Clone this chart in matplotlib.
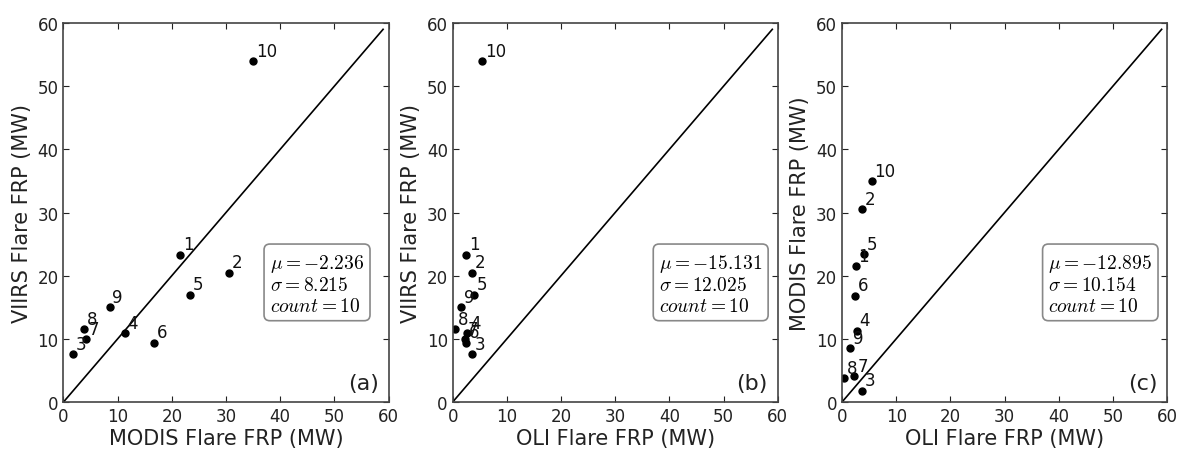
import matplotlib
matplotlib.use("Agg")
import matplotlib.pyplot as plt

plt.rcParams['mathtext.fontset'] = 'cm'
plt.rcParams['font.family'] = 'DejaVu Sans'

# flare ids and FRP values (MW)
flare_ids = ["1", "2", "3", "4", "5", "6", "7", "8", "9", "10"]
modis_frp = [21.5, 30.5, 1.8, 11.3, 23.4, 16.8, 4.1, 3.8, 8.5, 35.0]
viirs_frp = [23.3, 20.5, 7.6, 10.9, 17.0, 9.4, 9.9, 11.5, 15.0, 54.0]
oli_frp = [2.5, 3.6, 3.6, 2.7, 4.0, 2.4, 2.3, 0.4, 1.5, 5.5]

stats_text = [
    "$\\mu=-2.236$\n$\\sigma=8.215$\n$count=10$",
    "$\\mu=-15.131$\n$\\sigma=12.025$\n$count=10$",
    "$\\mu=-12.895$\n$\\sigma=10.154$\n$count=10$",
]
panel_tags = ["(a)", "(b)", "(c)"]
panels = [
    (modis_frp, viirs_frp, "MODIS Flare FRP (MW)", "VIIRS Flare FRP (MW)"),
    (oli_frp, viirs_frp, "OLI Flare FRP (MW)", "VIIRS Flare FRP (MW)"),
    (oli_frp, modis_frp, "OLI Flare FRP (MW)", "MODIS Flare FRP (MW)"),
]

fig = plt.figure(figsize=(11.78, 4.52), dpi=100)
lefts = [0.0539, 0.3843, 0.7148]

for i, (xs, ys, xlab, ylab) in enumerate(panels):
    ax = fig.add_axes([lefts[i], 0.1084, 0.2759, 0.8385])
    ax.plot([0, 59], [0, 59], color='black', lw=1.2)
    ax.plot(xs, ys, 'o', color='black', markersize=5)
    for fid, x, y in zip(flare_ids, xs, ys):
        ax.annotate(fid, (x, y), xytext=(2, 1), textcoords='offset points',
                    fontsize=12, ha='left', va='bottom', color='#111111')
    ax.set_xlim(0, 60)
    ax.set_ylim(0, 60)
    ax.set_xticks(range(0, 61, 10))
    ax.set_yticks(range(0, 61, 10))
    ax.tick_params(direction='in', top=True, right=True, length=4,
                   labelsize=12, colors='#222222')
    for sp in ax.spines.values():
        sp.set_color('#444444')
        sp.set_linewidth(1.2)
    ax.set_xlabel(xlab, fontsize=15, labelpad=2, color='#222222')
    ax.set_ylabel(ylab, fontsize=15, labelpad=4, color='#222222')
    ax.text(0.635, 0.313, stats_text[i], transform=ax.transAxes,
            fontsize=14, ha='left', va='center', multialignment='left',
            linespacing=1.1,
            bbox=dict(boxstyle='round,pad=0.3', facecolor='white',
                      edgecolor='#888888', lw=1.2))
    ax.text(0.97, 0.025, panel_tags[i], transform=ax.transAxes,
            fontsize=16, ha='right', va='bottom', color='#222222')

fig.savefig("out.png", dpi=100)
